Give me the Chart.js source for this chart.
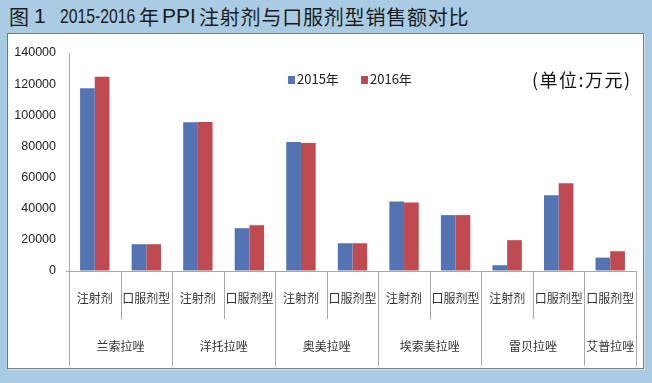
<!DOCTYPE html>
<html>
<head>
<meta charset="utf-8">
<script src="https://cdn.jsdelivr.net/npm/chart.js@4/dist/chart.umd.min.js"></script>
<style>
  html, body { margin: 0; padding: 0; }
  body {
    width: 652px; height: 383px; position: relative; overflow: hidden;
    background: #a9cce4;
    font-family: "Noto Sans CJK SC", "Liberation Sans", sans-serif;
  }
  .t {
    position: absolute; top: 3px; font-size: 20px; line-height: 28px;
    color: #1b1b1b; white-space: nowrap;
  }
  .t.lat { font-family: "Liberation Sans", sans-serif; font-size: 21px; top: 2px; }
  .t.narrow { transform: scaleX(0.75); transform-origin: 0 50%; }
  #panel {
    position: absolute; left: 7px; top: 33px; width: 635px; height: 334px;
    background: #fff; border: 1px solid #7a7a7a;
    box-shadow: 1px 1px 0 #d6e6f1;
  }
  #legend {
    position: absolute; top: 69px; left: 288px; font-size: 13px; color: #222;
  }
  #legend span.item { position: absolute; white-space: nowrap; }
  #legend i { display: inline-block; width: 7px; height: 8px; margin-right: 2px; vertical-align: 0px; }
  #unit {
    position: absolute; left: 532px; top: 66px; font-size: 18px; letter-spacing: 1.5px;
    color: #111; white-space: nowrap;
  }
  #chart { position: absolute; left: 0; top: 0; }
</style>
</head>
<body>
<div class="t" style="left:9px">图</div>
<div class="t lat" style="left:34px">1</div>
<div class="t lat narrow" style="left:60px">2015-2016</div>
<div class="t" style="left:139px">年</div>
<div class="t lat" style="left:162px">PPI</div>
<div class="t" style="left:199px; letter-spacing:0.8px">注射剂与口服剂型销售额对比</div>
<div id="panel"></div>
<canvas id="chart" width="652" height="383"></canvas>
<div id="legend"></div>
<div id="unit">(单位:万元)</div>
<script>
// ============================
// DATA
// ============================

const subLabels = ["注射剂", "口服剂型", "注射剂", "口服剂型", "注射剂", "口服剂型",
  "注射剂", "口服剂型", "注射剂", "口服剂型", "口服剂型"];
const groupLabels = ["兰索拉唑", "兰索拉唑", "洋托拉唑", "洋托拉唑", "奥美拉唑", "奥美拉唑",
  "埃索美拉唑", "埃索美拉唑", "雷贝拉唑", "雷贝拉唑", "艾普拉唑"];

const sales2015 = [117400, 17200, 95500, 27500, 82800, 17800, 44700, 35900, 3700, 48700, 8600];
const sales2016 = [124700, 17200, 95700, 29400, 82200, 17800, 44000, 35900, 19800, 56300, 12700];

const yTicks = [0, 20000, 40000, 60000, 80000, 100000, 120000, 140000];

const seriesNames = ["2015年", "2016年"];
const seriesColors = ["#5373b2", "#bf4a51"];

// ============================
// LEGEND
// ============================

const legendEl = document.getElementById("legend");
seriesNames.forEach((name, i) => {
  const s = document.createElement("span");
  s.className = "item";
  s.style.left = (i * 73) + "px";
  s.innerHTML = `<i style="background:${seriesColors[i]}"></i>${name}`;
  legendEl.appendChild(s);
});

// ============================
// X AXIS PLUGIN (two-level labels)
// ============================

const groupAxisPlugin = {
  id: "groupAxisPlugin",
  afterDraw(chart) {
    const ctx = chart.ctx;
    const x = chart.scales.x;
    const area = chart.chartArea;
    const n = subLabels.length;
    const step = (area.right - area.left) / n;
    const y0 = area.bottom;

    ctx.save();
    ctx.strokeStyle = "#a8a8a8";
    ctx.lineWidth = 1;

    // baseline
    ctx.beginPath();
    ctx.moveTo(area.left - 3, y0 + 0.5);
    ctx.lineTo(area.right, y0 + 0.5);
    ctx.stroke();

    // dividers
    for (let i = 0; i <= n; i++) {
      const px = Math.round(area.left + i * step) + 0.5;
      const isGroupEdge = i === 0 || i === n || groupLabels[i] !== groupLabels[i - 1];
      ctx.beginPath();
      ctx.moveTo(px, y0);
      ctx.lineTo(px, isGroupEdge ? y0 + 95 : y0 + 48);
      ctx.stroke();
    }

    ctx.fillStyle = "#333";
    ctx.font = '12px "Noto Sans CJK SC", sans-serif';
    ctx.textAlign = "center";
    ctx.textBaseline = "middle";

    subLabels.forEach((lab, i) => {
      ctx.fillText(lab, x.getPixelForValue(i), y0 + 27);
    });

    let start = 0;
    for (let i = 1; i <= n; i++) {
      if (i === n || groupLabels[i] !== groupLabels[start]) {
        const cx = (x.getPixelForValue(start) + x.getPixelForValue(i - 1)) / 2;
        ctx.fillText(groupLabels[start], cx, y0 + 75);
        start = i;
      }
    }
    ctx.restore();
  }
};

// ============================
// CHART
// ============================

new Chart(document.getElementById("chart"), {
  type: "bar",
  data: {
    labels: subLabels,
    datasets: [
      { label: seriesNames[0], data: sales2015, backgroundColor: seriesColors[0] },
      { label: seriesNames[1], data: sales2016, backgroundColor: seriesColors[1] }
    ]
  },
  options: {
    responsive: false,
    animation: false,
    devicePixelRatio: 1,
    layout: { padding: { top: 53, right: 16, bottom: 112, left: 0 } },
    datasets: { bar: { categoryPercentage: 0.57, barPercentage: 1.0 } },
    plugins: { legend: { display: false }, tooltip: { enabled: false } },
    scales: {
      x: { display: false },
      y: {
        min: 0,
        max: 140000,
        afterFit: scale => { scale.width = 69; },
        afterBuildTicks: scale => { scale.ticks = yTicks.map(v => ({ value: v })); },
        grid: { drawOnChartArea: false, drawTicks: false },
        border: { display: true, color: "#a8a8a8" },
        ticks: {
          padding: 13,
          color: "#222",
          font: { family: '"Liberation Sans", sans-serif', size: 12.5 },
          callback: v => String(v)
        }
      }
    }
  },
  plugins: [groupAxisPlugin]
});
</script>
</body>
</html>
